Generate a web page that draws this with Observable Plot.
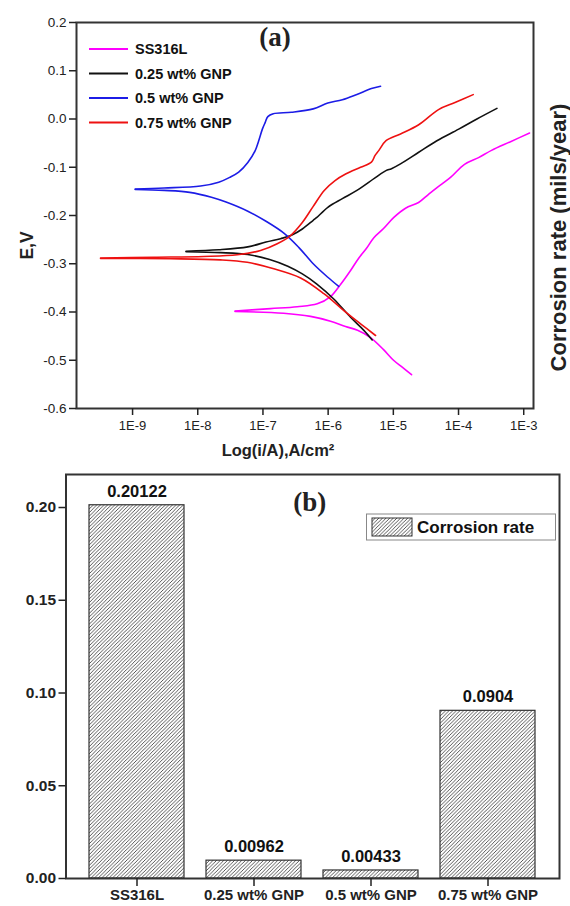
<!DOCTYPE html>
<html><head><meta charset="utf-8">
<script src="https://cdn.jsdelivr.net/npm/d3@7"></script>
<script src="https://cdn.jsdelivr.net/npm/@observablehq/plot@0.6"></script>
<style>
body{margin:0;background:#fff;}
#chart svg{display:block;}
</style></head><body><div id="chart"></div>
<script>
const SANS = "'Liberation Sans',Arial,sans-serif";
const SERIF = "'Liberation Serif','Times New Roman',serif";

// ---------- Panel (a) data ----------
const seriesNames = ["SS316L", "0.25 wt% GNP", "0.5 wt% GNP", "0.75 wt% GNP"];
const seriesColors = ["#ff00ff", "#111111", "#1c1ce6", "#ee1111"];
const xTickValues = [1e-9, 1e-8, 1e-7, 1e-6, 1e-5, 1e-4, 1e-3];
const xTickLabels = ["1E-9", "1E-8", "1E-7", "1E-6", "1E-5", "1E-4", "1E-3"];
const yTickValues = [-0.6, -0.5, -0.4, -0.3, -0.2, -0.1, 0, 0.1, 0.2];
const yTickLabels = ["-0.6", "-0.5", "-0.4", "-0.3", "-0.2", "-0.1", "0.0", "0.1", "0.2"];

// points: [log10(i / A cm^-2), E (V)]
const ss316lAnodic = [[-7.428,-0.398],[-6.883,-0.393],[-6.474,-0.389],[-6.167,-0.383],[-5.963,-0.368],[-5.81,-0.343],[-5.656,-0.314],[-5.534,-0.289],[-5.411,-0.268],[-5.299,-0.246],[-5.15,-0.227],[-4.992,-0.204],[-4.813,-0.185],[-4.613,-0.173],[-4.46,-0.156],[-4.33,-0.142],[-4.123,-0.121],[-3.908,-0.094],[-3.693,-0.080],[-3.494,-0.065],[-3.202,-0.047],[-2.91,-0.029]];
const ss316lCathodic = [[-7.428,-0.399],[-6.684,-0.4025],[-6.27,-0.409],[-5.963,-0.419],[-5.733,-0.430],[-5.549,-0.438],[-5.35,-0.453],[-5.15,-0.478],[-4.997,-0.500],[-4.859,-0.515],[-4.721,-0.530]];
const gnp025Anodic = [[-8.18,-0.274],[-7.678,-0.271],[-7.232,-0.265],[-6.953,-0.255],[-6.73,-0.248],[-6.563,-0.241],[-6.396,-0.228],[-6.229,-0.210],[-6.173,-0.204],[-6.005,-0.183],[-5.782,-0.165],[-5.559,-0.148],[-5.281,-0.122],[-5.113,-0.107],[-5.029,-0.103],[-4.89,-0.093],[-4.611,-0.069],[-4.332,-0.045],[-3.997,-0.021],[-3.718,0.000],[-3.411,0.022]];
const gnp025Cathodic = [[-8.18,-0.275],[-7.65,-0.277],[-7.232,-0.281],[-6.898,-0.291],[-6.619,-0.305],[-6.396,-0.321],[-6.173,-0.342],[-5.914,-0.373],[-5.656,-0.411],[-5.452,-0.438],[-5.324,-0.458]];
const gnp05Anodic = [[-8.96,-0.145],[-8.515,-0.143],[-7.957,-0.139],[-7.678,-0.131],[-7.511,-0.121],[-7.372,-0.110],[-7.232,-0.090],[-7.121,-0.066],[-7.065,-0.045],[-7.009,-0.021],[-6.965,-0.007],[-6.925,0.005],[-6.842,0.011],[-6.563,0.014],[-6.229,0.021],[-6.005,0.033],[-5.782,0.040],[-5.559,0.051],[-5.336,0.063],[-5.196,0.068]];
const gnp05Cathodic = [[-8.96,-0.146],[-8.515,-0.148],[-8.124,-0.152],[-7.79,-0.162],[-7.566,-0.172],[-7.232,-0.191],[-6.953,-0.212],[-6.675,-0.237],[-6.451,-0.266],[-6.229,-0.300],[-6.005,-0.328],[-5.838,-0.347]];
const gnp075Anodic = [[-9.491,-0.288],[-8.673,-0.2865],[-7.906,-0.285],[-7.394,-0.2815],[-7.037,-0.2725],[-6.781,-0.2585],[-6.577,-0.2415],[-6.396,-0.2145],[-6.229,-0.181],[-6.06,-0.148],[-5.894,-0.1275],[-5.725,-0.1135],[-5.503,-0.100],[-5.336,-0.0895],[-5.28,-0.0755],[-5.224,-0.0655],[-5.112,-0.045],[-4.89,-0.031],[-4.611,-0.012],[-4.307,0.0195],[-4.054,0.034],[-3.775,0.0505]];
const gnp075Cathodic = [[-9.491,-0.289],[-8.417,-0.2897],[-7.65,-0.292],[-7.241,-0.297],[-6.833,-0.3105],[-6.423,-0.3295],[-6.066,-0.362],[-5.759,-0.397],[-5.503,-0.4245],[-5.273,-0.4487]];

const branches = [
  {series: 0, pts: ss316lAnodic}, {series: 0, pts: ss316lCathodic},
  {series: 1, pts: gnp025Anodic}, {series: 1, pts: gnp025Cathodic},
  {series: 2, pts: gnp05Anodic}, {series: 2, pts: gnp05Cathodic},
  {series: 3, pts: gnp075Anodic}, {series: 3, pts: gnp075Cathodic}
];

// ---------- Panel (b) data ----------
const categories = ["SS316L", "0.25 wt% GNP", "0.5 wt% GNP", "0.75 wt% GNP"];
const corrosionRates = [0.20122, 0.00962, 0.00433, 0.0904];
const rateLabels = ["0.20122", "0.00962", "0.00433", "0.0904"];
const bTickValues = [0, 0.05, 0.10, 0.15, 0.20];
const bTickLabels = ["0.00", "0.05", "0.10", "0.15", "0.20"];

// ---------- build panel (a) ----------
const rows = [];
branches.forEach((b, k) => b.pts.forEach(([li, e]) => rows.push({i: Math.pow(10, li), E: e, s: seriesNames[b.series], k})));

const fmtX = d => xTickLabels[xTickValues.findIndex(v => Math.abs(Math.log10(v) - Math.log10(d)) < 1e-6)];
const fmtY = d => yTickLabels[yTickValues.findIndex(v => Math.abs(v - d) < 1e-9)];
const centered = {textAnchor: "middle", lineAnchor: "middle"};

const chartA = Plot.plot({
  width: 570, height: 465,
  marginLeft: 76, marginRight: 37, marginTop: 22, marginBottom: 57,
  style: {fontFamily: SANS, color: "#222", background: "white", overflow: "visible"},
  x: {type: "log", domain: [Math.pow(10, -9.86), Math.pow(10, -2.85)], axis: null},
  y: {domain: [-0.6, 0.2], axis: null},
  color: {domain: seriesNames, range: seriesColors},
  marks: [
    Plot.line(rows, {x: "i", y: "E", z: "k", stroke: "s", strokeWidth: 1.6, curve: "catmull-rom"}),
    Plot.frame({stroke: "#333", strokeWidth: 2}),
    Plot.axisX({ticks: xTickValues, tickFormat: fmtX, tickSize: 7, tickPadding: 5, label: null, fontSize: 13, strokeWidth: 1.5}),
    Plot.axisY({ticks: yTickValues, tickFormat: fmtY, tickSize: 7, tickPadding: 3, label: null, fontSize: 13.5, strokeWidth: 1.5}),
    Plot.text(["Log(i/A),A/cm²"], {text: d => d, frameAnchor: "bottom", ...centered, dx: -27, dy: 42, fontSize: 16.5, fontWeight: "bold"}),
    Plot.text(["E,V"], {text: d => d, frameAnchor: "left", ...centered, dx: -49, dy: 30, rotate: -90, fontSize: 17.5, fontWeight: "bold"}),
    Plot.text(["Corrosion rate (mils/year)"], {text: d => d, frameAnchor: "right", ...centered, dx: 25, dy: 22, rotate: -90, fontSize: 22, fontWeight: "bold"}),
    Plot.text(["(a)"], {text: d => d, frameAnchor: "top", ...centered, dx: -30, dy: 15, fontSize: 27, fontWeight: "bold", fontFamily: SERIF})
  ]
});

// legend for (a)
{
  const svg = d3.select(chartA);
  const g = svg.append("g").attr("font-family", SANS).attr("font-weight", "bold").attr("font-size", 14.5).attr("text-anchor", "start");
  seriesNames.forEach((name, j) => {
    const y = 49 + j * 24.5;
    g.append("line").attr("x1", 89).attr("x2", 128).attr("y1", y).attr("y2", y).attr("stroke", seriesColors[j]).attr("stroke-width", 1.8);
    g.append("text").attr("x", 135).attr("y", y).attr("dy", "0.35em").attr("fill", "#111").text(name);
  });
}

// ---------- build panel (b) ----------
const bars = categories.map((c, j) => ({c, v: corrosionRates[j], t: rateLabels[j]}));
const fmtB = d => bTickLabels[bTickValues.findIndex(v => Math.abs(v - d) < 1e-9)];

const chartB = Plot.plot({
  width: 570, height: 441,
  marginLeft: 65.5, marginRight: 11, marginTop: 9, marginBottom: 28,
  style: {fontFamily: SANS, color: "#222", background: "white", overflow: "visible"},
  x: {domain: categories, padding: 0.19, axis: null},
  y: {domain: [0, 0.2178], axis: null},
  marks: [
    Plot.barY(bars, {x: "c", y: "v", fill: "url(#hatch)", stroke: "#333", strokeWidth: 1.2}),
    Plot.text(bars, {x: "c", y: "v", text: "t", dy: -14, fontSize: 16.5, fontWeight: "bold", fill: "#111"}),
    Plot.frame({stroke: "#333", strokeWidth: 2}),
    Plot.axisX({tickSize: 8, tickPadding: 3, label: null, fontSize: 15, fontWeight: "bold", strokeWidth: 1.5}),
    Plot.axisY({ticks: bTickValues, tickFormat: fmtB, tickSize: 7, tickPadding: 3, label: null, fontSize: 15.5, fontWeight: "bold", strokeWidth: 1.5}),
    Plot.text(["(b)"], {text: d => d, frameAnchor: "top", ...centered, dx: -3, dy: 28, fontSize: 27, fontWeight: "bold", fontFamily: SERIF})
  ]
});

{
  const svg = d3.select(chartB);
  const defs = svg.insert("defs", ":first-child");
  const p = defs.append("pattern").attr("id", "hatch").attr("patternUnits", "userSpaceOnUse").attr("width", 3.6).attr("height", 3.6);
  p.append("rect").attr("width", 3.6).attr("height", 3.6).attr("fill", "#fff");
  p.append("path").attr("d", "M-0.9,0.9 l1.8,-1.8 M0,3.6 l3.6,-3.6 M2.7,4.5 l1.8,-1.8").attr("stroke", "#444").attr("stroke-width", 0.9);
  const g = svg.append("g").attr("text-anchor", "start");
  g.append("rect").attr("x", 366.5).attr("y", 49).attr("width", 189).attr("height", 26).attr("fill", "#fff").attr("stroke", "#888").attr("stroke-width", 1);
  g.append("rect").attr("x", 372).attr("y", 53).attr("width", 40).attr("height", 18).attr("fill", "url(#hatch)").attr("stroke", "#333").attr("stroke-width", 1);
  g.append("text").attr("x", 417).attr("y", 62).attr("dy", "0.35em").attr("font-family", SANS).attr("font-weight", "bold").attr("font-size", 17).attr("fill", "#111").text("Corrosion rate");
}

document.getElementById("chart").append(chartA, chartB);
</script></body></html>
